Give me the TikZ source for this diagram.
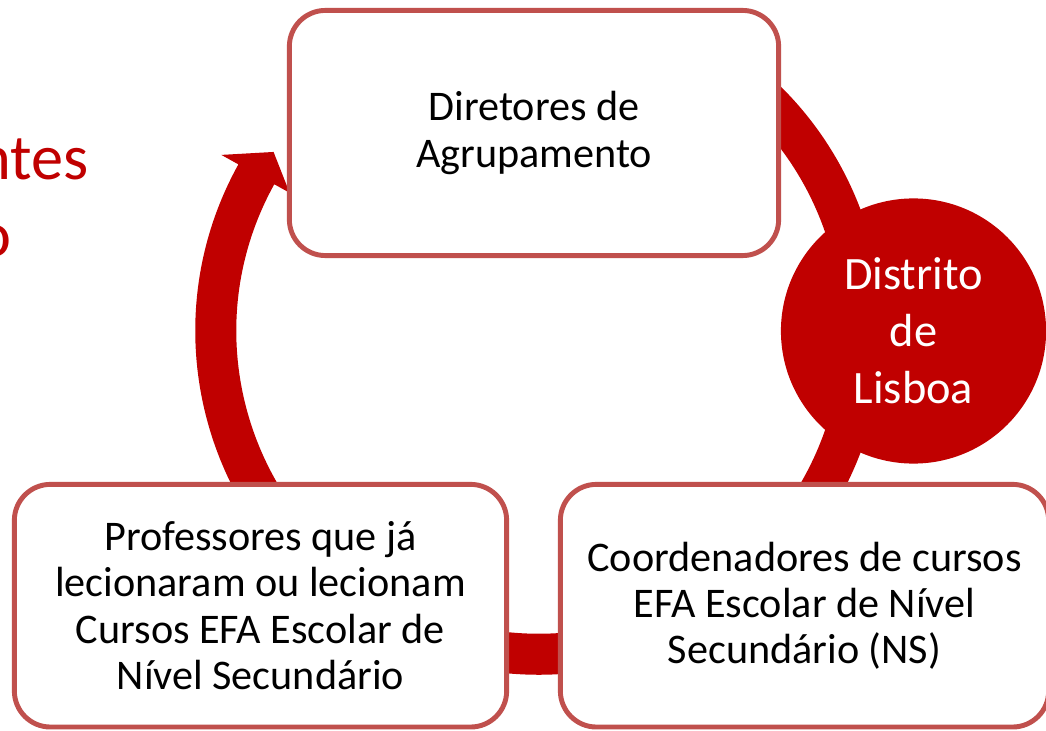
\documentclass[tikz,border=0pt]{standalone}
\usepackage{fontspec}
\setmainfont{Carlito}
\usetikzlibrary{calc}
\definecolor{ringred}{HTML}{C00000}
\definecolor{boxline}{HTML}{C0504D}
\tikzset{
	stagebox/.style={draw=boxline, line width=1.4pt, fill=white, rounded corners=0.36cm, align=center, inner sep=0pt, font=\fontsize{12}{13.2}\selectfont},
	hubdisc/.style={circle, fill=ringred, text=white, align=center, inner sep=0pt, minimum size=2.65cm, font=\fontsize{13.2}{16.2}\selectfont},
	cuttext/.style={text=ringred, anchor=base east, inner sep=0pt, font=\fontsize{18.3}{22}\selectfont}
}

\begin{document}
\begin{tikzpicture}[x=0.01cm,y=0.01cm]
	\clip (0,0) rectangle (1046,730);
	\fill[white] (0,0) rectangle (1046,730);
	
	%ring (centre of the cycle)
	\coordinate (hub) at (539,399);
	\fill[ringred] ($(hub)+(60:3.435cm)$) arc[start angle=60, end angle=-209, radius=3.435cm]
		-- ($(hub)+(-209:3.63cm)$) -- ($(hub)+(-214:3.2cm)$) -- ($(hub)+(-209:2.85cm)$)
		-- ($(hub)+(-209:3.025cm)$) arc[start angle=-209, end angle=60, radius=3.025cm] -- cycle;
	
	%left-over title, cut at the edge
	\node[cuttext] (titleA) at (89,550) {ntes};
	\node[cuttext] (titleB) at (12,473) {o};
	
	%boxes
	\node[stagebox, minimum width=4.89cm, minimum height=2.45cm] (directors) at (534,597) {Diretores de\\Agrupamento};
	\node[stagebox, minimum width=4.92cm, minimum height=2.425cm] (teachers) at (260.5,124.3) {Professores que já\\lecionaram ou lecionam\\Cursos EFA Escolar de\\Nível Secundário};
	\node[stagebox, minimum width=4.88cm, minimum height=2.425cm] (coordinators) at (804.5,124.3) {Coordenadores de cursos\\EFA Escolar de Nível\\Secundário (NS)};
	
	%circle
	\node[hubdisc] (district) at (913.5,399) {Distrito\\de\\Lisboa};
\end{tikzpicture}
\end{document}
